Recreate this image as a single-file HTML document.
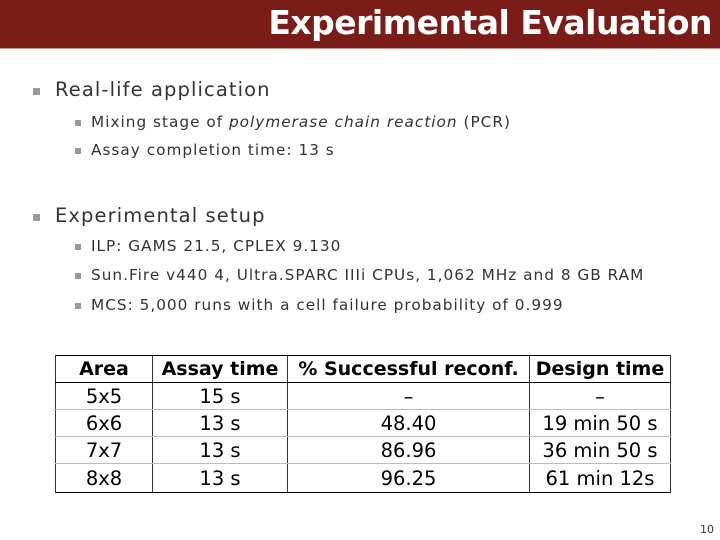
<!DOCTYPE html>
<html><head><meta charset="utf-8"><style>
body{margin:0;width:720px;height:540px;background:#fff;position:relative;overflow:hidden;font-family:"DejaVu Sans","Liberation Sans",sans-serif;color:#333}
.bar{position:absolute;left:0;top:0;width:720px;height:48px;background:#7a1c17;border-bottom:1px solid #b98}
.title{position:absolute;right:8px;top:3px;color:#fff;font-weight:bold;font-size:33px;letter-spacing:-0.5px}
.l1,.l2{position:absolute;white-space:nowrap}
.l1{left:55px;font-size:19.5px;letter-spacing:1.1px}
.l2{left:91px;font-size:15.3px;letter-spacing:1px}
.b1,.b2{position:absolute;background:#999}
.b1{left:33px;width:7px;height:7px}
.b2{left:75px;width:6px;height:6px}
table{position:absolute;left:55px;top:355px;border-collapse:collapse;border:1.5px solid #000;font-size:19.5px;color:#000}
td,th{border-left:1.5px solid #333;border-right:1.5px solid #333;text-align:center;padding:0;height:26px;line-height:25px}
th{border-bottom:1.5px solid #000;font-weight:600;font-size:19px}
tr.r td{border-bottom:1.5px solid #bbb}
.pn{position:absolute;left:700px;top:523px;font-size:11px;color:#333}
</style></head><body>
<div class="bar"><div class="title">Experimental Evaluation</div></div>
<div class="b1" style="top:88px"></div>
<div class="l1" style="top:78px">Real-life application</div>
<div class="b2" style="top:120px"></div>
<div class="l2" style="top:113px">Mixing stage of <i>polymerase chain reaction</i> (PCR)</div>
<div class="b2" style="top:148px"></div>
<div class="l2" style="top:141px">Assay completion time: 13 s</div>
<div class="b1" style="top:214px"></div>
<div class="l1" style="top:204px">Experimental setup</div>
<div class="b2" style="top:244px"></div>
<div class="l2" style="top:237px">ILP: GAMS 21.5, CPLEX 9.130</div>
<div class="b2" style="top:273px"></div>
<div class="l2" style="top:266px">Sun.Fire v440 4, Ultra.SPARC IIIi CPUs, 1,062 MHz and 8 GB RAM</div>
<div class="b2" style="top:303px"></div>
<div class="l2" style="top:296px">MCS: 5,000 runs with a cell failure probability of 0.999</div>
<table>
<tr><th style="width:96px">Area</th><th style="width:134px">Assay time</th><th style="width:241px">% Successful reconf.</th><th style="width:140px">Design time</th></tr>
<tr class="r"><td>5x5</td><td>15 s</td><td>–</td><td>–</td></tr>
<tr class="r"><td>6x6</td><td>13 s</td><td>48.40</td><td>19 min 50 s</td></tr>
<tr class="r"><td>7x7</td><td>13 s</td><td>86.96</td><td>36 min 50 s</td></tr>
<tr><td style="height:28px">8x8</td><td>13 s</td><td>96.25</td><td>61 min 12s</td></tr>
</table>
<div class="pn">10</div>
</body></html>
